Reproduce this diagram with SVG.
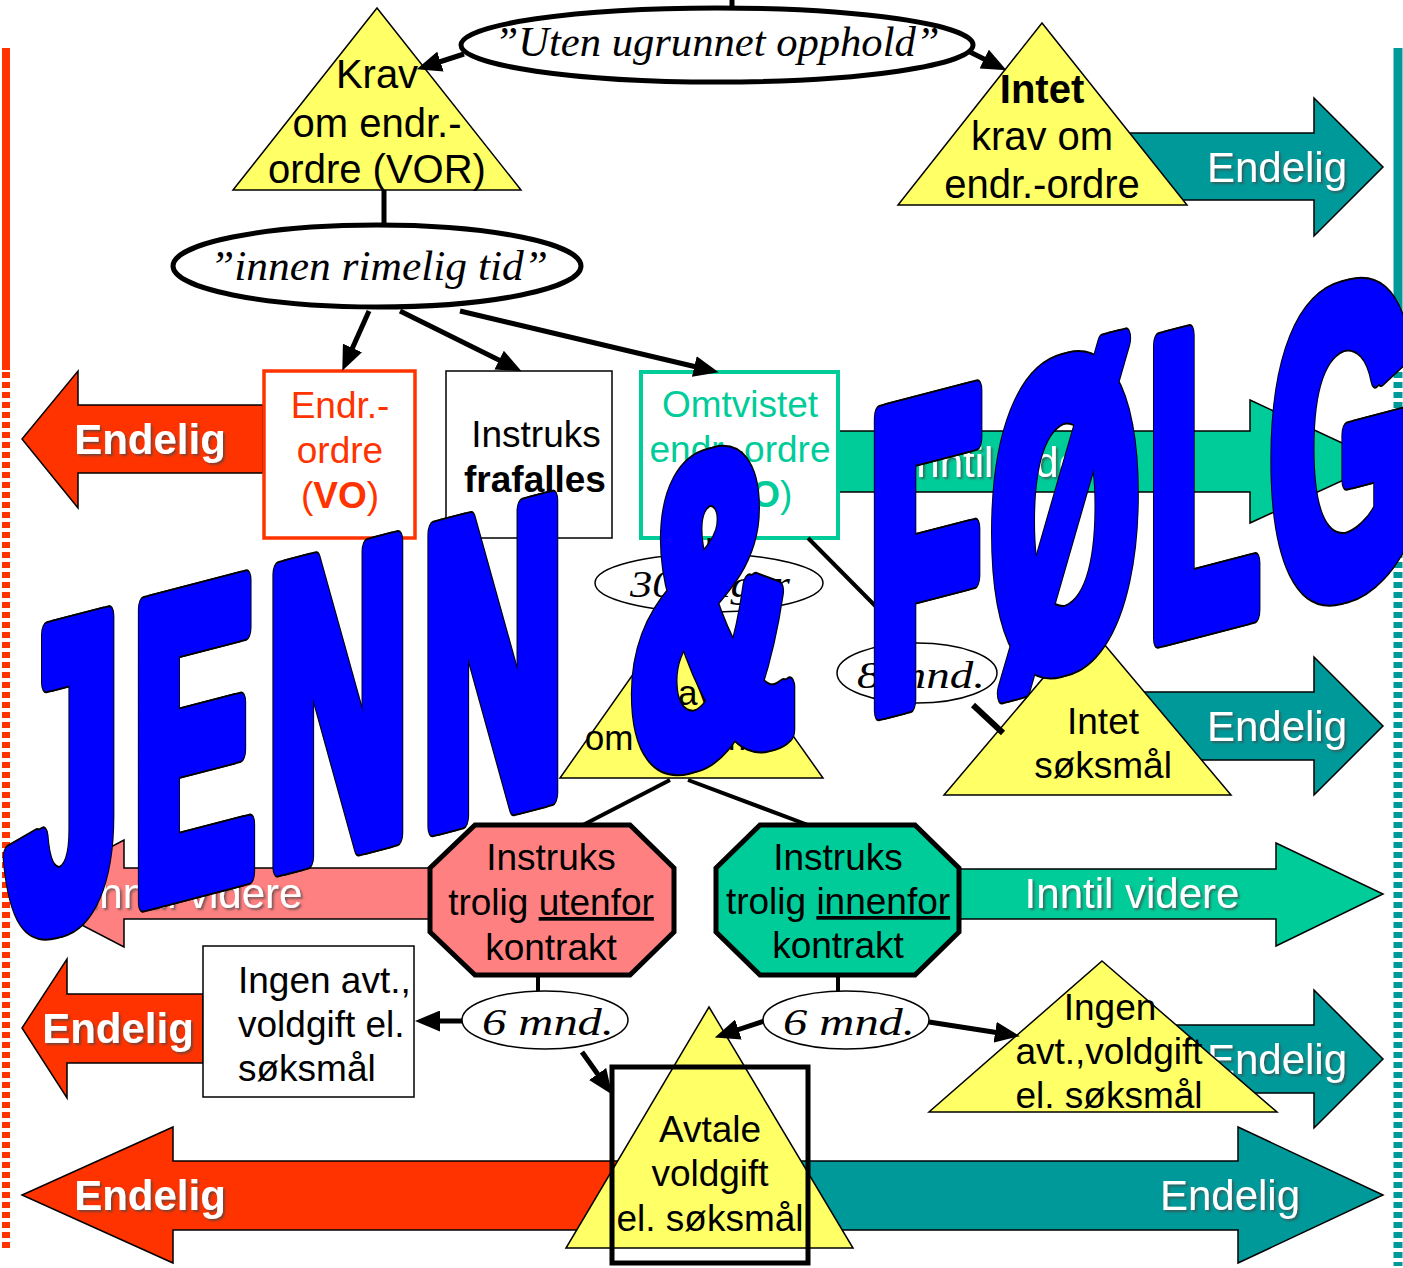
<svg xmlns="http://www.w3.org/2000/svg" width="1403" height="1268" viewBox="0 0 1403 1268">
<defs>
<style>
.t{font-family:'Liberation Sans',Arial,sans-serif}
.n{font-family:'Liberation Sans',Arial,sans-serif;font-size:37px;fill:#000;text-anchor:middle}
.b40{font-size:40px}
.hw{font-family:'Segoe Print','Liberation Serif',serif;font-style:italic;fill:#000;text-anchor:middle}
.w{font-family:'Liberation Sans',Arial,sans-serif;fill:#fff;font-size:42px;text-anchor:middle;filter:url(#sh)}
.bold{font-weight:bold}
.tri{fill:#FFFF66;stroke:#000;stroke-width:1.5}
.ar{stroke:#000;stroke-width:1.5}
.or{fill:#FF3300}.tl{fill:#009999}.gr{fill:#00CC99}.pk{fill:#FF8080}
.c{fill:none;stroke:#000;stroke-width:5}
.ca{fill:none;stroke:#000;stroke-width:5;marker-end:url(#ah)}
.el{fill:#fff;stroke:#000;stroke-width:5}
.el2{fill:#fff;stroke:#000;stroke-width:1.5}
.oct{stroke:#000;stroke-width:5}
</style>
<filter id="sh" x="-10%" y="-20%" width="130%" height="150%"><feDropShadow dx="2" dy="2" stdDeviation="0.8" flood-color="#444" flood-opacity="0.7"/></filter>
<marker id="ah" markerUnits="userSpaceOnUse" markerWidth="25" markerHeight="21" refX="11" refY="10.5" orient="auto" viewBox="0 0 25 21"><path d="M0,0 L25,10.5 L0,21 z" fill="#000"/></marker>
<g id="wa" font-family="'Liberation Sans',Arial,sans-serif" font-weight="bold" font-size="425">
<text transform="translate(8.3,937.8) scale(0.47,1)">J</text>
<text transform="translate(133.9,937.8) scale(0.424,1)">E</text>
<text transform="translate(267.9,937.8) scale(0.456,1)">N</text>
<text transform="translate(422.9,937.8) scale(0.456,1)">N</text>
<text transform="translate(630.3,937.8) scale(0.53,1)">&amp;</text>
<text transform="translate(869.8,937.8) scale(0.428,1)">F</text>
<text transform="translate(991.6,937.8) scale(0.444,1)">Ø</text>
<text transform="translate(1149.1,937.8) scale(0.419,1)">L</text>
<text transform="translate(1270.9,937.8) scale(0.446,1)">G</text>
</g>
</defs>
<rect width="1403" height="1268" fill="#fff"/>

<g id="side-bars">
<line x1="6" y1="48" x2="6" y2="370" stroke="#FF3300" stroke-width="8"/>
<line x1="6" y1="372" x2="6" y2="1252" stroke="#FF3300" stroke-width="8" stroke-dasharray="6 4"/>
<line x1="1398" y1="48" x2="1398" y2="350" stroke="#009999" stroke-width="9"/>
<line x1="1398" y1="352" x2="1398" y2="1266" stroke="#009999" stroke-width="9" stroke-dasharray="6 4"/>
</g>

<g id="outcome-arrows">
<g id="arrow-top-endelig"><polygon class="ar tl" points="1120,133 1314,133 1314,98 1383,167 1314,236 1314,200 1120,200"/><text class="w" x="1277" y="182">Endelig</text></g>
<g id="arrow-dvo-inntil"><polygon class="ar gr" points="838,431 1250,431 1250,400 1383,462 1250,523 1250,492 838,492"/><text class="w" x="1012" y="477">Inntil videre</text></g>
<g id="arrow-sok-endelig"><polygon class="ar tl" points="1130,692 1314,692 1314,657 1383,726 1314,795 1314,760 1130,760"/><text class="w" x="1277" y="741">Endelig</text></g>
<g id="arrow-inn-inntil"><polygon class="ar gr" points="958,869 1276,869 1276,843 1383,894 1276,946 1276,919 958,919"/><text class="w" x="1132" y="908">Inntil videre</text></g>
<g id="arrow-ingen-r-endelig"><polygon class="ar tl" points="1160,1025 1314,1025 1314,990 1383,1059 1314,1128 1314,1093 1160,1093"/><text class="w" x="1277" y="1074">Endelig</text></g>
<g id="arrow-bottom-r-endelig"><polygon class="ar tl" points="780,1161 1238,1161 1238,1127 1383,1195 1238,1263 1238,1230 780,1230"/><text class="w" x="1230" y="1210">Endelig</text></g>
<g id="arrow-vo-endelig"><polygon class="ar or" points="263,405 78,405 78,371 22,439 78,508 78,473 263,473"/><text class="w bold" x="150" y="454">Endelig</text></g>
<g id="arrow-ut-inntil"><polygon class="ar pk" points="430,868 124,868 124,840 22,894 124,947 124,919 430,919"/><text class="w" x="195" y="908">Inntil videre</text></g>
<g id="arrow-ingen-l-endelig"><polygon class="ar or" points="203,994 67,994 67,959 22,1028 67,1098 67,1063 203,1063"/><text class="w bold" x="118" y="1043">Endelig</text></g>
<g id="arrow-bottom-l-endelig"><polygon class="ar or" points="650,1161 173,1161 173,1127 22,1195 173,1263 173,1230 650,1230"/><text class="w bold" x="150" y="1210">Endelig</text></g>
</g>

<g id="node-vor"><polygon class="tri" points="377,8 521,190 233,190"/>
<text class="n b40" x="377" y="88">Krav</text><text class="n b40" x="377" y="137">om endr.-</text><text class="n b40" x="377" y="183">ordre (VOR)</text></g>

<g id="node-intet-krav"><polygon class="tri" points="1042,23 1187,205 898,205"/>
<text class="n b40 bold" x="1042" y="103">Intet</text><text class="n b40" x="1042" y="150">krav om</text><text class="n b40" x="1042" y="198">endr.-ordre</text></g>

<g id="node-vo"><rect x="264" y="371" width="151" height="167" fill="#fff" stroke="#FF3300" stroke-width="3.5"/>
<text class="n" x="340" y="418" style="fill:#FF3300">Endr.-</text><text class="n" x="340" y="463" style="fill:#FF3300">ordre</text><text class="n" x="340" y="508" style="fill:#FF3300">(<tspan class="bold">VO</tspan>)</text></g>

<g id="node-frafalles"><rect x="446" y="371" width="166" height="167" fill="#fff" stroke="#000" stroke-width="1.5"/>
<text class="n" x="536" y="447">Instruks</text><text class="n bold" x="535" y="492">frafalles</text></g>

<g id="node-dvo"><rect x="641" y="372" width="197" height="166" fill="#fff" stroke="#00CC99" stroke-width="4"/>
<text class="n" x="740" y="417" style="fill:#00CC99">Omtvistet</text><text class="n" x="740" y="462" style="fill:#00CC99">endr.-ordre</text><text class="n" x="740" y="507" style="fill:#00CC99">(<tspan class="bold">DVO</tspan>)</text></g>

<g id="node-krav2"><polygon class="tri" points="691,592 823,778 560,778"/>
<text class="n" x="679" y="705" style="font-size:35px">Krav</text><text class="n" x="679" y="750" style="font-size:35px">om søksmål</text></g>

<g id="node-intet-soksmal"><polygon class="tri" points="1088,625 1231,795 944,795"/>
<text class="n" x="1103" y="734">Intet</text><text class="n" x="1103" y="778">søksmål</text></g>

<g id="node-utenfor"><polygon class="oct pk" points="475,825 630,825 674,868 674,932 630,975 475,975 430,932 430,868"/>
<text class="n" x="551" y="870">Instruks</text><text class="n" x="551" y="915">trolig <tspan style="text-decoration:underline">utenfor</tspan></text><text class="n" x="551" y="960">kontrakt</text></g>

<g id="node-innenfor"><polygon class="oct gr" points="760,825 915,825 959,868 959,932 915,975 760,975 716,932 716,868"/>
<text class="n" x="838" y="870">Instruks</text><text class="n" x="838" y="914">trolig <tspan style="text-decoration:underline">innenfor</tspan></text><text class="n" x="838" y="958">kontrakt</text></g>

<g id="node-ingen-box"><rect x="203" y="946" width="211" height="151" fill="#fff" stroke="#000" stroke-width="1.5"/>
<text class="t" x="238" y="993" font-size="37">Ingen avt.,</text><text class="t" x="238" y="1037" font-size="37">voldgift el.</text><text class="t" x="238" y="1081" font-size="37">søksmål</text></g>

<g id="node-ingen-tri"><polygon class="tri" points="1102,961 1277,1112 929,1112"/>
<text class="n" x="1110" y="1020">Ingen</text><text class="n" x="1109" y="1064">avt.,voldgift</text><text class="n" x="1109" y="1108">el. søksmål</text></g>

<g id="node-avtale"><polygon class="tri" points="709,1007 853,1248 566,1248"/>
<text class="n" x="710" y="1142">Avtale</text><text class="n" x="710" y="1186">voldgift</text><text class="n" x="710" y="1231">el. søksmål</text>
<rect x="612" y="1067" width="196" height="196" fill="none" stroke="#000" stroke-width="5"/></g>

<g id="connectors">
<line class="c" x1="732" y1="0" x2="732" y2="9"/>
<line class="ca" x1="464" y1="54" x2="430" y2="65"/>
<line class="ca" x1="970" y1="52" x2="994" y2="64"/>
<line class="c" x1="384" y1="190" x2="384" y2="225"/>
<line class="ca" x1="369" y1="311" x2="348" y2="358"/>
<line class="ca" x1="400" y1="311" x2="509" y2="365"/>
<line class="ca" x1="460" y1="311" x2="705" y2="369"/>
<line class="c" x1="709" y1="538" x2="709" y2="556" style="stroke-width:3"/>
<line class="c" x1="808" y1="538" x2="912" y2="643" style="stroke-width:4"/>
<line class="c" x1="973" y1="705" x2="1003" y2="733" style="stroke-width:6"/>
<line class="c" x1="670" y1="780" x2="583" y2="825" style="stroke-width:4"/>
<line class="c" x1="688" y1="780" x2="808" y2="825" style="stroke-width:4"/>
<line class="c" x1="538" y1="975" x2="538" y2="991" style="stroke-width:4"/>
<line class="c" x1="838" y1="975" x2="838" y2="991" style="stroke-width:4"/>
<line class="ca" x1="462" y1="1021" x2="429" y2="1021"/>
<line class="ca" x1="582" y1="1052" x2="604" y2="1083"/>
<line class="ca" x1="764" y1="1021" x2="728" y2="1033"/>
<line class="ca" x1="929" y1="1022" x2="1006" y2="1034"/>
</g>

<g id="node-uten"><ellipse class="el" cx="717" cy="45" rx="256" ry="37"/>
<text class="hw" x="717" y="56" font-size="42" textLength="445" lengthAdjust="spacingAndGlyphs">”Uten ugrunnet opphold”</text></g>

<g id="node-rimelig"><ellipse class="el" cx="377" cy="266" rx="204" ry="41"/>
<text class="hw" x="379" y="280" font-size="42" textLength="338" lengthAdjust="spacingAndGlyphs">”innen rimelig tid”</text></g>

<g id="node-30dager"><ellipse class="el2" cx="709" cy="583" rx="114" ry="29"/>
<text class="hw" x="710" y="597" font-size="38" textLength="160" lengthAdjust="spacingAndGlyphs">30 dager</text></g>

<g id="node-8mnd"><ellipse class="el2" cx="917" cy="673" rx="80" ry="30"/>
<text class="hw" x="921" y="688" font-size="38" textLength="128" lengthAdjust="spacingAndGlyphs">8 mnd.</text></g>

<g id="node-6mnd-l"><ellipse class="el2" cx="545" cy="1020" rx="83" ry="29"/>
<text class="hw" x="548" y="1035" font-size="38" textLength="132" lengthAdjust="spacingAndGlyphs">6 mnd.</text></g>

<g id="node-6mnd-r"><ellipse class="el2" cx="846" cy="1020" rx="83" ry="29"/>
<text class="hw" x="849" y="1035" font-size="38" textLength="132" lengthAdjust="spacingAndGlyphs">6 mnd.</text></g>

<g id="wordart" transform="matrix(1,-0.26,0,1,0,0)">
<use href="#wa" transform="translate(-3,0)" fill="#0000FF" stroke="#000" stroke-width="24" stroke-linejoin="round"/>
<use href="#wa" transform="translate(3,0)" fill="#0000FF" stroke="#000" stroke-width="24" stroke-linejoin="round"/>
<use href="#wa" transform="translate(-3,0)" fill="#0000FF" stroke="#0000FF" stroke-width="20" stroke-linejoin="round"/>
<use href="#wa" transform="translate(3,0)" fill="#0000FF" stroke="#0000FF" stroke-width="20" stroke-linejoin="round"/>
</g>
</svg>
